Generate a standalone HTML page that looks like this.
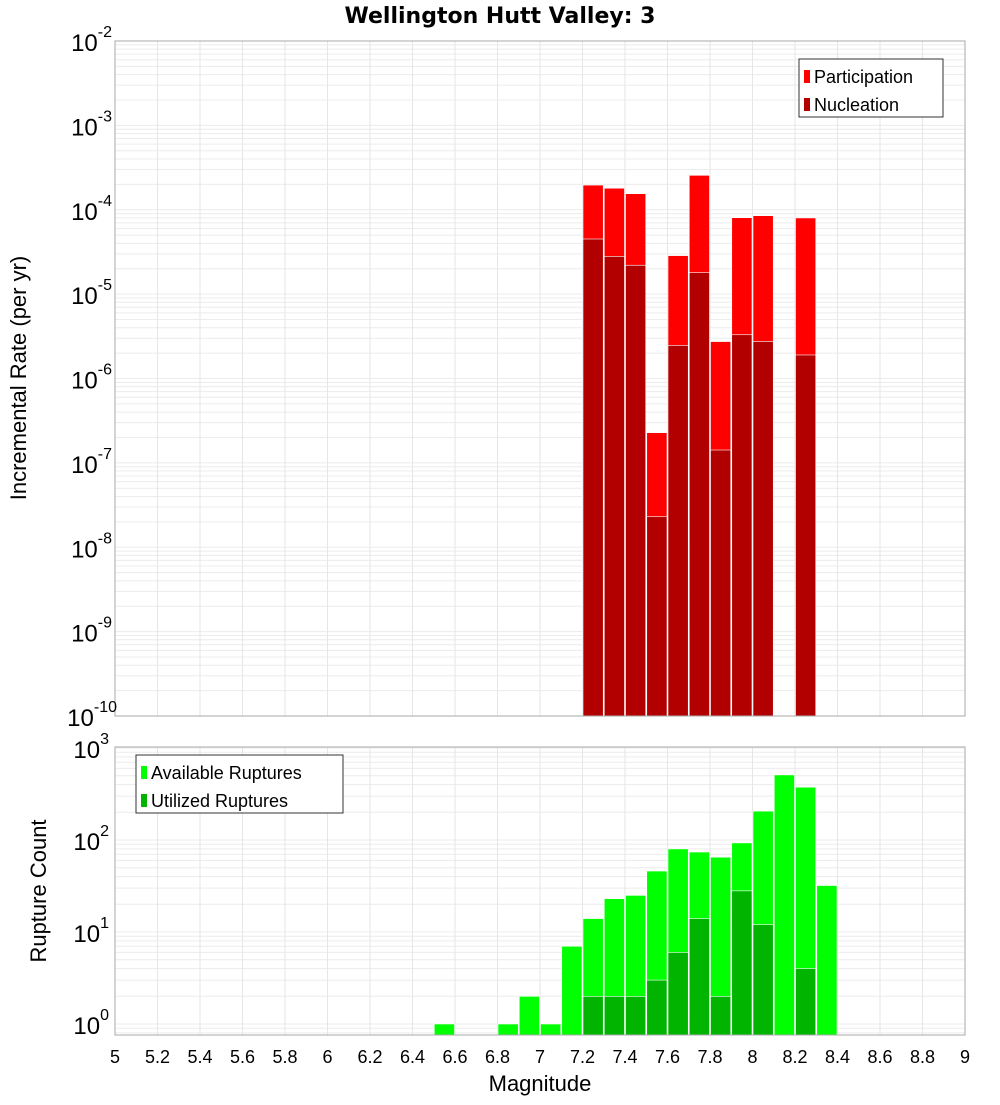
<!DOCTYPE html>
<html><head><meta charset="utf-8"><style>
body{margin:0;background:#fff;}
svg{font-family:"Liberation Sans","DejaVu Sans",sans-serif;}
</style></head><body>
<svg id="c" width="1000" height="1100" xmlns="http://www.w3.org/2000/svg">
<text x="500" y="23" text-anchor="middle" font-size="22" font-weight="bold" font-family="DejaVu Sans, sans-serif">Wellington Hutt Valley: 3</text>
</svg>
<script>
const bins = [6.55,6.85,6.95,7.05,7.15,7.25,7.35,7.45,7.55,7.65,7.75,7.85,7.95,8.05,8.15,8.25,8.35];
const rateBins = [7.25,7.35,7.45,7.55,7.65,7.75,7.85,7.95,8.05,8.25];
const participation = [1.96e-4,1.8e-4,1.55e-4,2.28e-7,2.86e-5,2.56e-4,2.74e-6,8.05e-5,8.5e-5,8e-5];
const nucleation = [4.5e-5,2.8e-5,2.2e-5,2.3e-8,2.47e-6,1.8e-5,1.42e-7,3.3e-6,2.75e-6,1.9e-6];
const available = [1,1,2,1,7,14,23,25,46,80,74,65,93,206,510,375,32];
const utilized = [0,0,0,0,0,2,2,2,3,6,14,2,28,12,0,4,0];
const xTicks = [5,5.2,5.4,5.6,5.8,6,6.2,6.4,6.6,6.8,7,7.2,7.4,7.6,7.8,8,8.2,8.4,8.6,8.8,9];
const topExp = [-2,-3,-4,-5,-6,-7,-8,-9,-10];
const botExp = [0,1,2,3];

const NS="http://www.w3.org/2000/svg";
const svg=document.getElementById('c');
function mk(tag,attrs,parent){const e=document.createElementNS(NS,tag);for(const k in attrs)e.setAttribute(k,attrs[k]);(parent||svg).appendChild(e);return e;}
const X0=115,X1=965;
const x=m=>X0+(m-5)/4*(X1-X0);
const T0=41,T1=716;
const yTop=v=>T0+(-2-Math.log10(v))*(T1-T0)/8;
const B0=747,B1=1035,BD=92,B10=1024;
const yBot=v=>B10-Math.log10(v)*BD;

function grid(yT,yB,yf,eLo,eHi,name){
  const g=mk('g',{});
  
  
  for(let e=eLo;e<=eHi;e++)for(let k=1;k<10;k++){const y=yf(k*Math.pow(10,e));if(y<yT-0.5||y>yB+0.5)continue;mk('line',{x1:X0,x2:X1,y1:y,y2:y,stroke:'#ececec','stroke-width':1},g);}
  xTicks.forEach(t=>{const xx=x(t);mk('line',{x1:xx,x2:xx,y1:yT,y2:yB,stroke:'#e6e6e6','stroke-width':1},g);});
}
grid(T0,T1,yTop,-10,-2,'top-grid');
grid(B0,B1,yBot,-1,3,'bottom-grid');

const bw=(x(5.1)-x(5))-1;
function bar(m,v,yf,base,color,name){
  const y=yf(v);const r=mk('rect',{x:x(m)-bw/2,y:y,width:bw,height:base-y,fill:color,stroke:'#fff','stroke-width':0.6});
  
  
}
rateBins.forEach((m,i)=>bar(m,participation[i],yTop,T1,'#ff0000','participation-bar'));
rateBins.forEach((m,i)=>bar(m,nucleation[i],yTop,T1,'#b20000','nucleation-bar'));
bins.forEach((m,i)=>{if(available[i]>0)bar(m,available[i],yBot,B1,'#00ff00','available-bar');});
bins.forEach((m,i)=>{if(utilized[i]>0)bar(m,utilized[i],yBot,B1,'#00b400','utilized-bar');});

mk('rect',{x:X0,y:T0,width:X1-X0,height:T1-T0,fill:'none',stroke:'#aaa','stroke-width':1});
mk('rect',{x:X0,y:B0,width:X1-X0,height:B1-B0,fill:'none',stroke:'#aaa','stroke-width':1});

function ylab(e,y,name){
  const t=mk('text',{x:107,y:y+10,'text-anchor':'end','font-size':24,fill:'#000'});
  
  
  const a=mk('tspan',{},t);a.textContent='10';
  const b=mk('tspan',{dy:-14,'font-size':16},t);b.textContent=String(e);
  t.setAttribute('x',String(e).length>2?117:(String(e).length>1?112:109));
}
topExp.forEach(e=>ylab(e,yTop(Math.pow(10,e)),'top-y-tick-label'));
botExp.forEach(e=>ylab(e,yBot(Math.pow(10,e)),'bottom-y-tick-label'));
xTicks.forEach(t=>{const e=mk('text',{x:x(t),y:1063,'text-anchor':'middle','font-size':18,fill:'#000'});e.textContent=String(t);
  
  });

function txt(s,attrs,name){const e=mk('text',attrs);e.textContent=s;return e;}
txt('Magnitude',{x:540,y:1091,'text-anchor':'middle','font-size':22},'x-axis-title');
txt('Incremental Rate (per yr)',{x:0,y:0,'text-anchor':'middle','font-size':22,transform:'translate(26,378) rotate(-90)'},'top-y-axis-title');
txt('Rupture Count',{x:0,y:0,'text-anchor':'middle','font-size':22,transform:'translate(46,891) rotate(-90)'},'bottom-y-axis-title');

function legend(x0,y0,w,h,items,name){
  const g=mk('g',{});
  mk('rect',{x:x0,y:y0,width:w,height:h,fill:'#fff',stroke:'#333','stroke-width':1},g);
  items.forEach((it,i)=>{const yy=y0+18+i*28;
    mk('rect',{x:x0+5,y:yy-7,width:6,height:13,fill:it[1]},g);
    const t=mk('text',{x:x0+15,y:yy+6,'font-size':18},g);t.textContent=it[0];});
}
legend(799,59,144,58,[['Participation','#ff0000'],['Nucleation','#b20000']],'top-legend');
legend(136,755,207,58,[['Available Ruptures','#00ff00'],['Utilized Ruptures','#00b400']],'bottom-legend');
</script>
</body></html>
